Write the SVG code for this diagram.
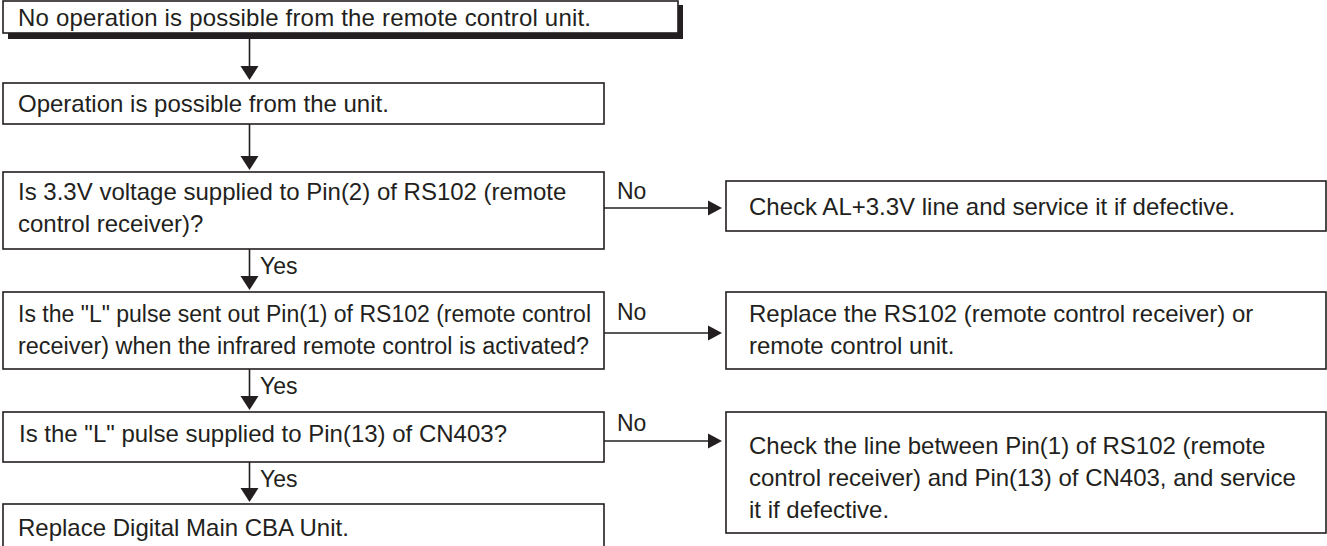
<svg xmlns="http://www.w3.org/2000/svg" width="1327" height="546" viewBox="0 0 1327 546">
<defs>
<style>
.box{fill:#fff;stroke:#231f20;stroke-width:1.6}
.t{font-family:"Liberation Sans",Arial,Helvetica,sans-serif;font-size:24px;fill:#231f20}
.s{font-size:23px}
.ln{stroke:#231f20;stroke-width:1.6;fill:none}
.ah{fill:#231f20}
</style>
</defs>
<g id="n1">
<rect x="8" y="5" width="675" height="34" fill="#231f20"/>
<rect class="box" x="3" y="1" width="675" height="32"/>
<text class="t" x="18" y="26" textLength="573">No operation is possible from the remote control unit.</text>
</g>
<g id="n2">
<rect class="box" x="3" y="83" width="601" height="41"/>
<text class="t" x="18" y="112">Operation is possible from the unit.</text>
</g>
<g id="n3">
<rect class="box" x="3" y="172" width="601" height="77"/>
<text class="t" x="18" y="200">Is 3.3V voltage supplied to Pin(2) of RS102 (remote</text>
<text class="t" x="18" y="232">control receiver)?</text>
</g>
<g id="n4">
<rect class="box" x="726" y="181" width="600" height="50"/>
<text class="t" x="749" y="215">Check AL+3.3V line and service it if defective.</text>
</g>
<g id="n5">
<rect class="box" x="3" y="292" width="601" height="77"/>
<text class="t s" x="18" y="322" textLength="573" lengthAdjust="spacingAndGlyphs">Is the "L" pulse sent out Pin(1) of RS102 (remote control</text>
<text class="t s" x="18" y="354" textLength="571" lengthAdjust="spacingAndGlyphs">receiver) when the infrared remote control is activated?</text>
</g>
<g id="n6">
<rect class="box" x="726" y="292" width="600" height="77"/>
<text class="t" x="749" y="322">Replace the RS102 (remote control receiver) or</text>
<text class="t" x="749" y="354">remote control unit.</text>
</g>
<g id="n7">
<rect class="box" x="3" y="412" width="601" height="50"/>
<text class="t" x="19" y="442">Is the "L" pulse supplied to Pin(13) of CN403?</text>
</g>
<g id="n8">
<rect class="box" x="726" y="412" width="600" height="121"/>
<text class="t" x="749" y="454">Check the line between Pin(1) of RS102 (remote</text>
<text class="t" x="749" y="486">control receiver) and Pin(13) of CN403, and service</text>
<text class="t" x="749" y="518">it if defective.</text>
</g>
<g id="n9">
<rect class="box" x="3" y="504" width="601" height="60"/>
<text class="t" x="18" y="536">Replace Digital Main CBA Unit.</text>
</g>
<g id="connectors">
<line class="ln" x1="249.5" y1="39" x2="249.5" y2="68"/>
<polygon class="ah" points="240.5,66 258.5,66 249.5,80"/>
<line class="ln" x1="249.5" y1="124" x2="249.5" y2="158"/>
<polygon class="ah" points="240.5,156 258.5,156 249.5,170"/>
<line class="ln" x1="249.5" y1="249" x2="249.5" y2="278"/>
<polygon class="ah" points="240.5,276 258.5,276 249.5,290"/>
<line class="ln" x1="249.5" y1="369" x2="249.5" y2="398"/>
<polygon class="ah" points="240.5,396 258.5,396 249.5,410"/>
<line class="ln" x1="249.5" y1="462" x2="249.5" y2="490"/>
<polygon class="ah" points="240.5,488 258.5,488 249.5,502"/>
<line class="ln" x1="604" y1="208" x2="710" y2="208"/>
<polygon class="ah" points="708,200.5 708,215.5 722,208"/>
<line class="ln" x1="604" y1="333" x2="710" y2="333"/>
<polygon class="ah" points="708,325.5 708,340.5 722,333"/>
<line class="ln" x1="604" y1="441" x2="710" y2="441"/>
<polygon class="ah" points="708,433.5 708,448.5 722,441"/>
<text class="t s" x="617" y="199">No</text>
<text class="t s" x="617" y="320">No</text>
<text class="t s" x="617" y="431">No</text>
<text class="t s" x="260" y="274">Yes</text>
<text class="t s" x="260" y="394">Yes</text>
<text class="t s" x="260" y="487">Yes</text>
</g>
</svg>
